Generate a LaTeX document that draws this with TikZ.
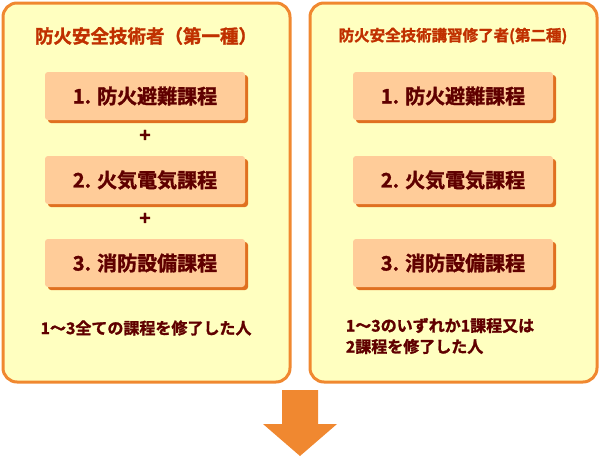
\documentclass[tikz,border=0pt]{standalone}
\usepackage{fontspec}
\usetikzlibrary{shadows}
\newfontfamily\cjk[FakeBold=1.5]{Noto Sans CJK JP Bold}
\definecolor{ob}{RGB}{240,136,48}
\definecolor{yf}{RGB}{255,255,192}
\definecolor{pf}{RGB}{255,204,153}
\definecolor{sh}{RGB}{224,112,32}
\definecolor{tx}{RGB}{96,0,0}
\definecolor{tt}{RGB}{192,48,0}
\begin{document}
\begin{tikzpicture}[x=1pt,y=-1pt,
  outer/.style={draw=ob,line width=3pt,fill=yf,rounded corners=14pt},
  inner/.style={fill=pf,rounded corners=3pt,minimum width=200pt,minimum height=48pt,
    text=tx,font=\cjk\fontsize{20}{22}\selectfont,
    drop shadow={shadow xshift=3pt,shadow yshift=-3pt,fill=sh,opacity=1}},
  ttl/.style={text=tt,font=\cjk\fontsize{18.5}{20}\selectfont},
  pls/.style={text=tx,font=\cjk\fontsize{19}{20}\selectfont},
  note/.style={text=tx,font=\cjk\fontsize{16}{21}\selectfont,align=left}]
\useasboundingbox (0,0) rectangle (600,458);
\draw[outer] (3,3) rectangle (290,382);
\draw[outer] (310,3) rectangle (597,382);
\node[ttl] (t1) at (146,36) {防火安全技術者（第一種）};
\node[ttl,font=\cjk\fontsize{15.5}{18}\selectfont] (t2) at (453,36) {防火安全技術講習修了者(第二種)};
\foreach \n/\x in {a/145,b/453}{
  \node[inner] (\n1) at (\x,96) {1. 防火避難課程};
  \node[inner] (\n2) at (\x,180) {2. 火気電気課程};
  \node[inner] (\n3) at (\x,263) {3. 消防設備課程};
}
\node[pls] (p1) at (145,136) {+};
\node[pls] (p2) at (145,219) {+};
\node[note] (n1) at (146,328) {1～3全ての課程を修了した人};
\node[note] (n2) at (440,336) {1～3のいずれか1課程又は\\2課程を修了した人};
\fill[ob] (282,390) -- (318,390) -- (318,424) -- (337,424) -- (300,456) -- (263,424) -- (282,424) -- cycle;
\end{tikzpicture}
\end{document}
